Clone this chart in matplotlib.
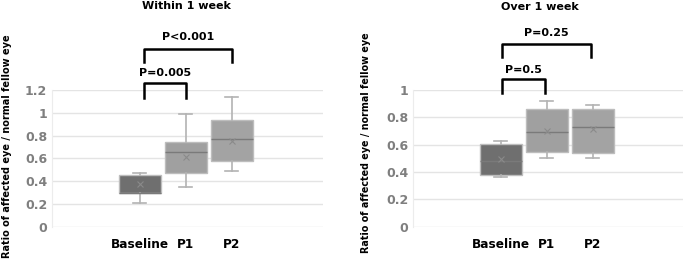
import matplotlib.pyplot as plt

plt.rcParams['font.family'] = ['DejaVu Sans']
plt.rcParams['font.weight'] = 'bold'

groups = ["Baseline", "P1", "P2"]

# five-number summaries + mean
within_low = [0.211, 0.351, 0.492]
within_q1 = [0.293, 0.469, 0.577]
within_med = [0.296, 0.658, 0.767]
within_q3 = [0.454, 0.746, 0.937]
within_high = [0.469, 0.987, 1.141]
within_mean = [0.378, 0.609, 0.755]

over_low = [0.361, 0.500, 0.500]
over_q1 = [0.380, 0.549, 0.537]
over_med = [0.483, 0.695, 0.732]
over_q3 = [0.603, 0.863, 0.863]
over_high = [0.629, 0.922, 0.888]
over_mean = [0.493, 0.702, 0.715]

box_colors = ["#6f6f6f", "#a0a0a0", "#a3a3a3"]
ylabel = "Ratio of affected eye / normal fellow eye"


def make_stats(lo, q1, med, q3, hi, mean):
    out = []
    for i in range(len(groups)):
        out.append(dict(whislo=lo[i], q1=q1[i], med=med[i], q3=q3[i],
                        whishi=hi[i], mean=mean[i], fliers=[]))
    return out


def draw_panel(ax, stats, ymax, brackets, xlim):
    ticks = [round(i * 0.2, 1) for i in range(int(round(ymax / 0.2)) + 1)]
    ax.set_ylim(0, ymax)
    ax.set_xlim(*xlim)
    for y in ticks:
        ax.axhline(y, color="#e4e4e4", lw=1, zorder=0)
    bp = ax.bxp(stats, positions=range(len(groups)), widths=0.9,
                showmeans=True, patch_artist=True, capwidths=0.28,
                meanprops=dict(marker="x", markersize=4, markeredgecolor="#8a8a8a",
                               markeredgewidth=0.8),
                medianprops=dict(color="#7a7a7a", lw=1),
                whiskerprops=dict(color="#b3b3b3", lw=1.2),
                capprops=dict(color="#b3b3b3", lw=1.2),
                boxprops=dict(lw=1))
    for patch, c in zip(bp["boxes"], box_colors):
        patch.set_facecolor(c)
        patch.set_edgecolor("#bdbdbd")
    for s in ax.spines.values():
        s.set_visible(False)
    ax.spines["left"].set_visible(True)
    ax.spines["left"].set_color("#ececec")
    ax.set_yticks(ticks)
    ax.set_yticklabels(["%g" % t for t in ticks])
    ax.tick_params(axis="y", length=0, colors="#7f7f7f", labelsize=9, pad=3.5)
    ax.tick_params(axis="x", length=0, labelsize=8.7, pad=8)
    ax.set_xticks(range(len(groups)))
    ax.set_xticklabels(groups, fontweight="bold")
    for lbl in ax.get_yticklabels():
        lbl.set_fontweight("bold")
    for (x0, x1, ybot, ytop, ytxt, txt) in brackets:
        ax.plot([x0, x0, x1, x1], [ybot, ytop, ytop, ybot], color="black",
                lw=1.8, clip_on=False, solid_joinstyle="round")
        ax.text((x0 + x1) / 2, ytxt, txt, ha="center", va="center",
                fontsize=8, fontweight="bold")


fig = plt.figure(figsize=(6.85, 2.62), dpi=100)
# pixel geometry of the two plot areas
ax1 = fig.add_axes([52 / 685, 1 - 226.7 / 262, 271 / 685, 136.7 / 262])
ax2 = fig.add_axes([413 / 685, 1 - 226.7 / 262, 270 / 685, 136.7 / 262])

draw_panel(ax1, make_stats(within_low, within_q1, within_med, within_q3, within_high, within_mean),
           1.2, [(0.08, 1.0, 1.13, 1.262, 1.35, "P=0.005"),
                 (0.08, 2.0, 1.446, 1.56, 1.665, "P<0.001")], (-1.91, 3.98))
draw_panel(ax2, make_stats(over_low, over_q1, over_med, over_q3, over_high, over_mean),
           1.0, [(0.02, 0.95, 0.978, 1.08, 1.146, "P=0.5"),
                 (0.02, 1.95, 1.241, 1.337, 1.417, "P=0.25")], (-1.91, 3.96))

fig.text(186 / 685, 1 - 6 / 262, "Within 1 week", ha="center", va="center",
         fontsize=8, fontweight="bold")
fig.text(540 / 685, 1 - 7 / 262, "Over 1 week", ha="center", va="center",
         fontsize=8, fontweight="bold")
fig.text(7 / 685, 1 - 146 / 262, ylabel, rotation=90, ha="center", va="center",
         fontsize=7, fontweight="bold")
fig.text(366 / 685, 1 - 143 / 262, ylabel, rotation=90, ha="center", va="center",
         fontsize=6.9, fontweight="bold")

fig.savefig("out.png", dpi=100)
